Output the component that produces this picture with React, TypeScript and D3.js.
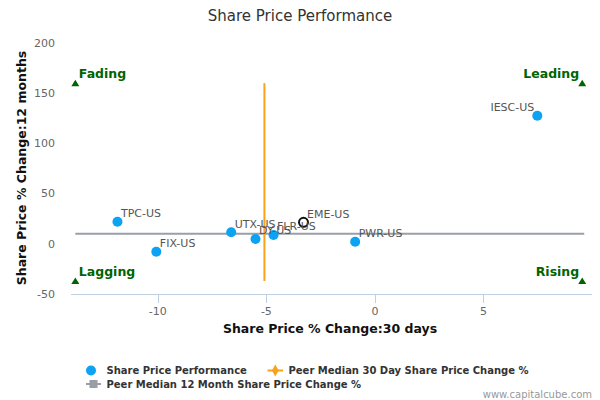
import * as d3 from "d3";

// Peer tickers, 30 day change (%) and 12 month change (%)
const tickers = ["TPC-US", "FIX-US", "UTX-US", "DY-US", "FLR-US", "EME-US", "PWR-US", "IESC-US"];
const change30d = [-11.86, -10.07, -6.62, -5.5, -4.67, -3.29, -0.91, 7.48];
const change12m = [22.0, -7.9, 11.5, 4.8, 8.8, 21.4, 2.1, 127.6];
const highlighted = "EME-US";

// Peer medians
const median30d = -5.09;
const median12m = 10.1;

// quadrant corners
const quadX = [-13.8, 9.55];
const quadY = [-37, 160];
const quadLabels = [
  { label: "Fading", xi: 0, yi: 1 },
  { label: "Leading", xi: 1, yi: 1 },
  { label: "Lagging", xi: 0, yi: 0 },
  { label: "Rising", xi: 1, yi: 0 },
];

const xTicks = [-10, -5, 0, 5];
const yTicks = [-50, 0, 50, 100, 150, 200];

const W = 600;
const H = 400;
const PLOT = { left: 71, right: 592, top: 43, bottom: 294 };

const BLUE = "#0ca3f2";
const ORANGE = "#f9a21a";
const GRAY = "#9a9ea6";
const GREEN = "#006400";
const FONT = "'DejaVu Sans', sans-serif";

export default function App() {
  const x = d3.scaleLinear().domain([-14, 10]).range([PLOT.left, PLOT.right]);
  const y = d3.scaleLinear().domain([-50, 200]).range([PLOT.bottom, PLOT.top]);

  const points = tickers.map((t, i) => ({ t, cx: x(change30d[i]), cy: y(change12m[i]) }));
  const tri = (cx: number, cy: number) => {
    const p = d3.path();
    p.moveTo(cx, cy - 3.5);
    p.lineTo(cx + 4, cy + 3);
    p.lineTo(cx - 4, cy + 3);
    p.closePath();
    return p.toString();
  };

  return (
    <div style={{ position: "fixed", left: 0, top: 0 }}>
      <svg width={W} height={H} style={{ display: "block", background: "#fff" }} fontFamily={FONT}>
        <text x={300} y={16} dy="0.35em" textAnchor="middle" fontSize={15} fill="#333">
          Share Price Performance
        </text>

        {/* x axis */}
        <line x1={PLOT.left} x2={PLOT.right} y1={PLOT.bottom + 0.5} y2={PLOT.bottom + 0.5} stroke="#c0d0e0" />
        {xTicks.map((t) => (
          <g key={t}>
            <line x1={Math.round(x(t)) + 0.5} x2={Math.round(x(t)) + 0.5} y1={PLOT.bottom} y2={PLOT.bottom + 9} stroke="#c0d0e0" />
            <text x={x(t)} y={311} dy="0.35em" textAnchor="middle" fontSize={11} fill="#666">
              {t}
            </text>
          </g>
        ))}
        <text x={330} y={329} dy="0.35em" textAnchor="middle" fontSize={12.5} fontWeight="bold" fill="#111">
          Share Price % Change:30 days
        </text>

        {/* y axis labels */}
        {yTicks.map((t) => (
          <text key={t} x={55} y={y(t)} dy="0.35em" textAnchor="end" fontSize={11} fill="#666">
            {t}
          </text>
        ))}
        <text
          transform={`translate(22,168) rotate(-90)`}
          dy="0.35em"
          textAnchor="middle"
          fontSize={12.5}
          fontWeight="bold"
          fill="#111"
        >
          Share Price % Change:12 months
        </text>

        {/* peer median lines */}
        <line x1={x(quadX[0])} x2={x(quadX[1]) + 2} y1={y(median12m)} y2={y(median12m)} stroke={GRAY} strokeWidth={2} />
        <line x1={x(median30d)} x2={x(median30d)} y1={y(quadY[0])} y2={y(quadY[1])} stroke={ORANGE} strokeWidth={2} />

        {/* quadrant markers */}
        {quadLabels.map((q) => {
          const cx = x(quadX[q.xi]);
          const cy = y(quadY[q.yi]);
          const left = q.xi === 0;
          return (
            <g key={q.label}>
              <path d={tri(cx, cy)} fill={GREEN} />
              <text
                x={left ? cx + 3.5 : cx - 3}
                y={cy - 9.5}
                dy="0.35em"
                textAnchor={left ? "start" : "end"}
                fontSize={12.5}
                fontWeight="bold"
                fill={GREEN}
              >
                {q.label}
              </text>
            </g>
          );
        })}

        {/* points */}
        {points.map((p) =>
          p.t === highlighted ? (
            <circle key={p.t} cx={p.cx} cy={p.cy} r={4.5} fill="#fff" stroke="#111" strokeWidth={2} />
          ) : (
            <circle key={p.t} cx={p.cx} cy={p.cy} r={5} fill={BLUE} />
          )
        )}
        {points.map((p) => {
          const flip = p.cx > PLOT.right - 60;
          return (
            <text
              key={p.t}
              x={flip ? p.cx - 3 : p.cx + 3.5}
              y={p.cy - 8.5}
              dy="0.35em"
              textAnchor={flip ? "end" : "start"}
              fontSize={11}
              fill="#555"
            >
              {p.t}
            </text>
          );
        })}

        {/* legend */}
        <g fontSize={10} fontWeight="bold" fill="#333">
          <circle cx={91} cy={370.5} r={5} fill={BLUE} />
          <text x={106.5} y={370.5} dy="0.35em">Share Price Performance</text>
          <line x1={267.5} x2={283} y1={370.5} y2={370.5} stroke={ORANGE} strokeWidth={2} />
          <path d={d3.symbol(d3.symbolDiamond, 40)()!} transform="translate(275.3,370.5)" fill={ORANGE} />
          <text x={288.5} y={370.5} dy="0.35em">Peer Median 30 Day Share Price Change %</text>
          <line x1={86} x2={101} y1={384} y2={384} stroke={GRAY} strokeWidth={2} />
          <rect x={89.5} y={380} width={8} height={8} fill={GRAY} />
          <text x={106.5} y={384} dy="0.35em">Peer Median 12 Month Share Price Change %</text>
        </g>
        <text x={592} y={394} dy="0.35em" textAnchor="end" fontSize={10} fill="#999">
          www.capitalcube.com
        </text>
      </svg>
    </div>
  );
}
